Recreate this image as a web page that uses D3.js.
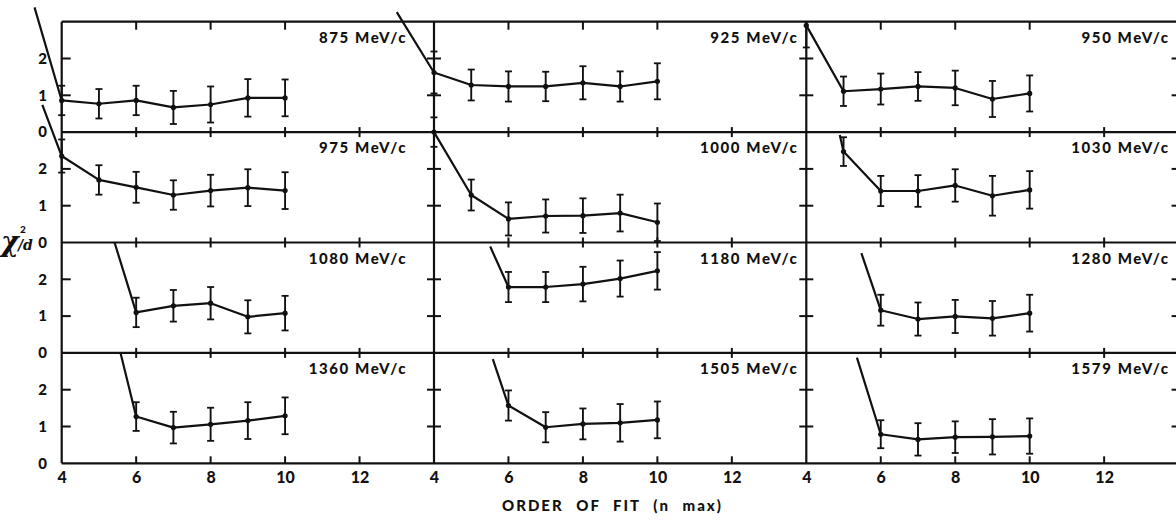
<!DOCTYPE html>
<html>
<head>
<meta charset="utf-8">
<script src="https://cdn.jsdelivr.net/npm/d3@7"></script>
<style>
  html, body { margin: 0; padding: 0; background: #fff; }
  svg { display: block; }
</style>
</head>
<body>
<svg id="chart" width="1176" height="521"></svg>
<script>
// Beam momenta of the twelve panels (MeV/c), read row by row
const momenta = [875, 925, 950, 975, 1000, 1030, 1080, 1180, 1280, 1360, 1505, 1579];

// Order of the fit, n_max
const orders = [4, 5, 6, 7, 8, 9, 10];

// chi^2 per degree of freedom for each order (null = no fit at that order)
const chiValues = [
  [0.86, 0.77, 0.86, 0.67, 0.75, 0.93, 0.93],
  [1.62, 1.28, 1.24, 1.24, 1.34, 1.24, 1.38],
  [2.90, 1.11, 1.17, 1.24, 1.20, 0.90, 1.05],
  [2.35, 1.70, 1.50, 1.29, 1.41, 1.49, 1.41],
  [3.00, 1.29, 0.64, 0.72, 0.73, 0.80, 0.55],
  [null, 2.47, 1.40, 1.40, 1.55, 1.27, 1.43],
  [null, null, 1.10, 1.28, 1.35, 0.98, 1.08],
  [null, null, 1.79, 1.79, 1.87, 2.02, 2.23],
  [null, null, 1.16, 0.92, 0.99, 0.94, 1.08],
  [null, null, 1.27, 0.97, 1.06, 1.16, 1.29],
  [null, null, 1.57, 0.98, 1.07, 1.10, 1.18],
  [null, null, 0.79, 0.65, 0.71, 0.72, 0.74]
];

// Uncertainty on each chi^2/d value
const chiErrors = [
  [0.40, 0.40, 0.40, 0.45, 0.49, 0.51, 0.50],
  [0.57, 0.42, 0.41, 0.40, 0.45, 0.41, 0.49],
  [0.60, 0.40, 0.42, 0.39, 0.47, 0.49, 0.49],
  [0.45, 0.40, 0.42, 0.40, 0.43, 0.50, 0.50],
  [0.40, 0.42, 0.45, 0.45, 0.47, 0.50, 0.51],
  [null, 0.39, 0.41, 0.43, 0.44, 0.54, 0.51],
  [null, null, 0.40, 0.43, 0.44, 0.45, 0.47],
  [null, null, 0.41, 0.41, 0.47, 0.49, 0.51],
  [null, null, 0.42, 0.45, 0.45, 0.47, 0.50],
  [null, null, 0.39, 0.43, 0.45, 0.50, 0.50],
  [null, null, 0.41, 0.41, 0.42, 0.51, 0.50],
  [null, null, 0.38, 0.44, 0.43, 0.48, 0.48]
];

// Where the curve comes in from the lower (off-scale) order: n and chi^2/d
const leadOrder = [3.27, 3.00, null, 3.48, null, 4.90, 5.42, 5.51, 5.48, 5.58, 5.58, 5.36];
const leadChi   = [3.39, 3.26, null, 3.74, null, 2.92, 3.00, 2.89, 2.71, 3.00, 2.83, 2.87];

// Axis tick values
const xLabelTicks = [4, 6, 8, 10, 12];
const xMinorTicks = [6, 8, 10, 12];
const xTopTicks = [6, 8, 10];
const yLabelTicks = [0, 1, 2];
const yMinorTicks = [1, 2];

// ---- layout ----
const frameLeft = 61.7, frameTop = 21.7;
const colW = 372.3, rowH = 110.4;
const nCols = 3, nRows = 4;
const labelInset = [27, 8, 9];
const sans = "Lato, 'DejaVu Sans', sans-serif";
const ink = "#111";

const svg = d3.select("#chart");
svg.append("rect").attr("width", 1176).attr("height", 521).attr("fill", "#fff");

const xScales = d3.range(nCols).map(c =>
  d3.scaleLinear().domain([4, 14]).range([frameLeft + c * colW, frameLeft + (c + 1) * colW]));
const yScales = d3.range(nRows).map(r =>
  d3.scaleLinear().domain([0, 3]).range([frameTop + (r + 1) * rowH, frameTop + r * rowH]));

const frame = svg.append("g");

// horizontal frame lines (top border, row boundaries, bottom)
for (let r = 0; r <= nRows; r++) {
  const y = frameTop + r * rowH;
  frame.append("line")
    .attr("x1", frameLeft).attr("x2", frameLeft + nCols * colW)
    .attr("y1", y).attr("y2", y)
    .attr("stroke", ink).attr("stroke-width", 2.2);
}
// vertical frame lines
for (let c = 0; c <= nCols; c++) {
  const x = frameLeft + c * colW;
  frame.append("line")
    .attr("x1", x).attr("x2", x)
    .attr("y1", frameTop).attr("y2", frameTop + nRows * rowH)
    .attr("stroke", ink).attr("stroke-width", 2.2);
}

// x ticks along each horizontal line
for (let c = 0; c < nCols; c++) {
  const x = xScales[c];
  for (let r = 0; r <= nRows; r++) {
    const y = frameTop + r * rowH;
    const vals = r === 0 ? xTopTicks : xMinorTicks;
    const upLen = r === 0 ? 0 : (r === nRows ? 7 : 5);
    const down = r === nRows ? 0 : (r === 0 ? 8 : 5);
    frame.selectAll(null).data(vals).enter().append("line")
      .attr("x1", d => x(d)).attr("x2", d => x(d))
      .attr("y1", y - upLen).attr("y2", y + down)
      .attr("stroke", ink).attr("stroke-width", 2);
  }
}

// y ticks on each column's left axis and on the right border
for (let r = 0; r < nRows; r++) {
  const y = yScales[r];
  for (let c = 0; c <= nCols; c++) {
    const x0 = frameLeft + c * colW;
    const l = c === 0 ? 0 : 7;
    const rr = c === nCols ? 0 : (c === 0 ? 9 : 7);
    frame.selectAll(null).data(yMinorTicks).enter().append("line")
      .attr("x1", x0 - l).attr("x2", x0 + rr)
      .attr("y1", d => y(d)).attr("y2", d => y(d))
      .attr("stroke", ink).attr("stroke-width", 2);
  }
}

// y tick labels on the leftmost column
for (let r = 0; r < nRows; r++) {
  const g = svg.append("g").attr("transform", `translate(${frameLeft},0)`)
    .call(d3.axisLeft(yScales[r]).tickValues(yLabelTicks).tickSize(0).tickPadding(19)
      .tickFormat(d3.format("d")));
  g.select(".domain").remove();
  g.selectAll("text").attr("text-anchor", "middle")
    .style("font-family", sans).style("font-weight", "900").style("font-size", "15px")
    .style("fill", ink);
}

// x tick labels under the bottom row
for (let c = 0; c < nCols; c++) {
  const g = svg.append("g").attr("transform", `translate(0,${frameTop + nRows * rowH})`)
    .call(d3.axisBottom(xScales[c]).tickValues(xLabelTicks).tickSize(0).tickPadding(8)
      .tickFormat(d3.format("d")));
  g.select(".domain").remove();
  g.selectAll("text")
    .style("font-family", sans).style("font-weight", "900").style("font-size", "16px")
    .style("fill", ink);
}

// panels
momenta.forEach((p, i) => {
  const r = Math.floor(i / nCols), c = i % nCols;
  const x = xScales[c], y = yScales[r];
  const g = svg.append("g");

  const pts = orders.map((n, k) => ({ n, v: chiValues[i][k], e: chiErrors[i][k] }))
    .filter(d => d.v !== null);

  const linePts = (leadOrder[i] !== null ? [{ n: leadOrder[i], v: leadChi[i] }] : []).concat(pts);
  g.append("path")
    .attr("d", d3.line().x(d => x(d.n)).y(d => y(d.v))(linePts))
    .attr("fill", "none").attr("stroke", ink).attr("stroke-width", 2.2)
    .attr("stroke-linejoin", "round");

  // error bars
  const eb = g.selectAll(".eb").data(pts).enter().append("g");
  eb.append("line")
    .attr("x1", d => x(d.n)).attr("x2", d => x(d.n))
    .attr("y1", d => Math.max(frameTop, y(d.v + d.e))).attr("y2", d => y(d.v - d.e))
    .attr("stroke", ink).attr("stroke-width", 1.9);
  eb.filter(d => y(d.v + d.e) >= frameTop).append("line")
    .attr("x1", d => x(d.n) - 3.5).attr("x2", d => x(d.n) + 3.5)
    .attr("y1", d => y(d.v + d.e)).attr("y2", d => y(d.v + d.e))
    .attr("stroke", ink).attr("stroke-width", 1.8);
  eb.append("line")
    .attr("x1", d => x(d.n) - 3.5).attr("x2", d => x(d.n) + 3.5)
    .attr("y1", d => y(d.v - d.e)).attr("y2", d => y(d.v - d.e))
    .attr("stroke", ink).attr("stroke-width", 1.8);
  g.selectAll(".pt").data(pts).enter().append("circle")
    .attr("cx", d => x(d.n)).attr("cy", d => y(d.v)).attr("r", 2.6).attr("fill", ink);

  // momentum label
  g.append("text")
    .attr("x", frameLeft + (c + 1) * colW - labelInset[c])
    .attr("y", frameTop + r * rowH + 21)
    .attr("text-anchor", "end")
    .style("font-family", sans).style("font-weight", "900").style("font-size", "15px")
    .style("letter-spacing", "1.6px").style("fill", ink)
    .text(`${p} MeV/c`);
});

// y axis title: chi^2 / d
const yt = svg.append("g").style("fill", ink);
yt.append("text").attr("x", 1).attr("y", 251)
  .style("font-family", "'DejaVu Serif', serif").style("font-style", "italic")
  .style("font-weight", "bold").style("font-size", "27px").text("χ");
yt.append("text").attr("x", 20).attr("y", 233)
  .style("font-family", sans).style("font-weight", "900").style("font-size", "10px").text("2");
yt.append("text").attr("x", 18).attr("y", 250)
  .style("font-family", "'DejaVu Serif', serif").style("font-style", "italic")
  .style("font-weight", "bold").style("font-size", "14px").text("/d");

// x axis title
svg.append("text")
  .attr("x", 502).attr("y", 511)
  .style("font-family", sans).style("font-weight", "900").style("font-size", "15px")
  .style("letter-spacing", "2px").style("word-spacing", "7px").style("fill", ink)
  .text("ORDER OF FIT (n max)");
</script>
</body>
</html>
